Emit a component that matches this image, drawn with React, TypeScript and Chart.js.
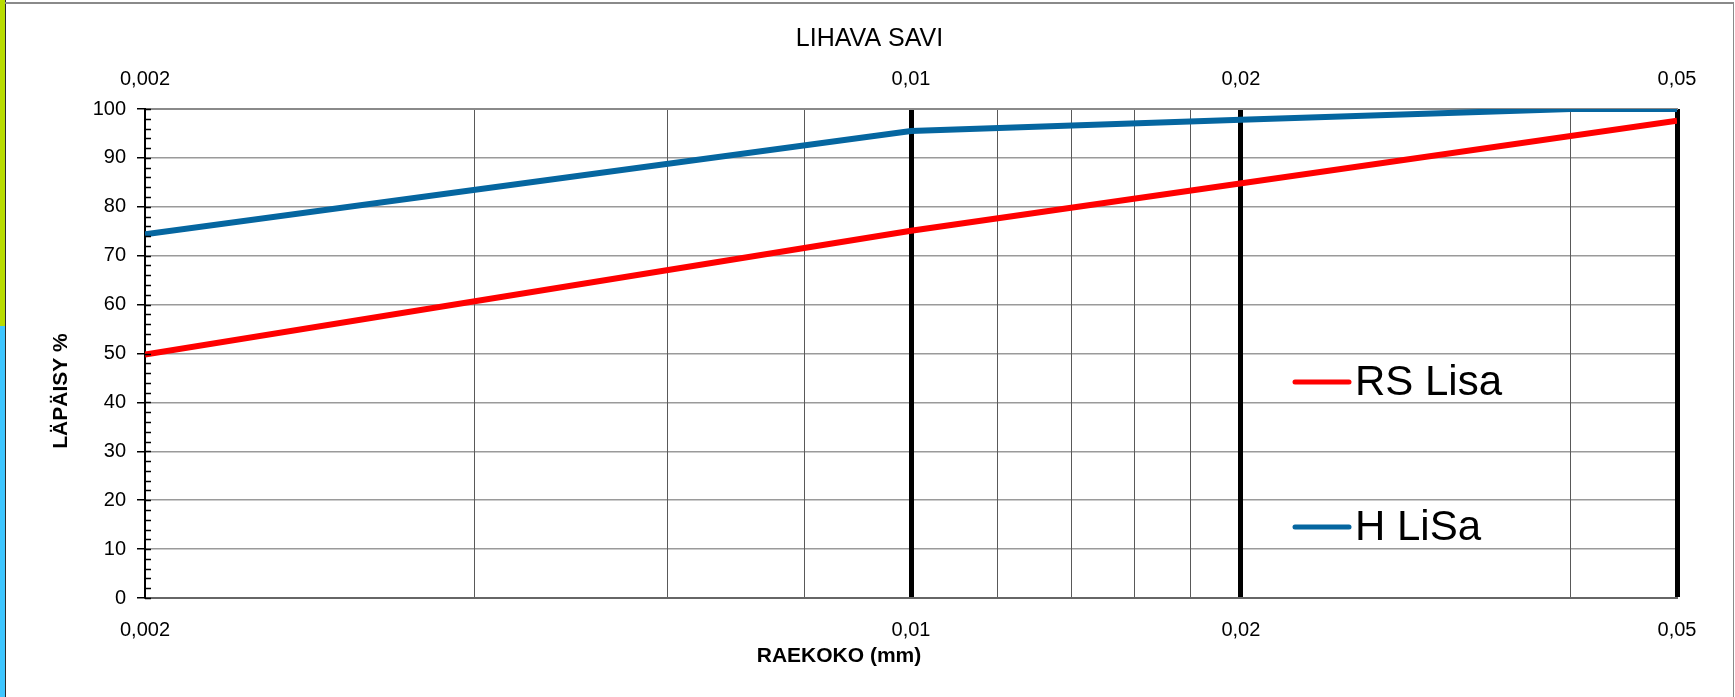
import React, { useEffect, useRef } from 'react';
import { Chart, registerables } from 'chart.js';

Chart.register(...registerables);

// ---- data ----
const chartTitle = 'LIHAVA SAVI';
const xAxisTitle = 'RAEKOKO (mm)';
const yAxisTitle = 'LÄPÄISY %';
const seriesNames = ['RS Lisa', 'H LiSa'];
const seriesColors = ['#ff0000', '#0566a0'];
const rsSizes = [0.002, 0.01, 0.05];
const rsPassing = [49.8, 75.1, 97.6];
const hSizes = [0.002, 0.01, 0.02, 0.04, 0.05];
const hPassing = [74.4, 95.5, 97.8, 100, 100];
const xGridValues = [0.002, 0.004, 0.006, 0.008, 0.01, 0.012, 0.014, 0.016, 0.018, 0.02, 0.04, 0.05];
const xLabelValues = [0.002, 0.01, 0.02, 0.05];
const xLabelTexts = ['0,002', '0,01', '0,02', '0,05'];
const xHeavyValues = [0.01, 0.02, 0.05];
const xMin = 0.002;
const xMax = 0.05;
const yMin = 0;
const yMax = 100;
const yMajorStep = 10;
const yMinorStep = 2;

const FONT = '"Liberation Sans", Arial, Helvetica, sans-serif';
const W = 1735;
const H = 697;

const near = (a: number, b: number) => Math.abs(a - b) < 1e-9;
const inList = (v: number, list: number[]) => list.some((t) => near(v, t));
const xLabelFor = (v: number) => {
  const i = xLabelValues.findIndex((t) => near(t, v));
  return i >= 0 ? xLabelTexts[i] : '';
};

const extrasPlugin = {
  id: 'extras',
  afterDraw(chart: any) {
    const { ctx, chartArea } = chart;
    const yScale = chart.scales.y;
    ctx.save();
    // inner minor tick marks on the y axis
    ctx.strokeStyle = '#000';
    ctx.lineWidth = 1.5;
    yScale.ticks.forEach((t: any) => {
      const py = Math.round(yScale.getPixelForValue(t.value)) + 0.5;
      ctx.beginPath();
      ctx.moveTo(chartArea.left, py);
      ctx.lineTo(chartArea.left + 6, py);
      ctx.stroke();
    });
    // title
    ctx.fillStyle = '#000';
    ctx.textAlign = 'center';
    ctx.textBaseline = 'middle';
    ctx.font = `25px ${FONT}`;
    ctx.fillText(chartTitle, W / 2 + 2, 39);
    // x axis title
    ctx.font = `bold 21px ${FONT}`;
    ctx.fillText(xAxisTitle, 839, 656);
    // y axis title
    ctx.save();
    ctx.translate(61, 391);
    ctx.rotate(-Math.PI / 2);
    ctx.fillText(yAxisTitle, 0, 0);
    ctx.restore();
    // legend
    const legendY = [382, 527];
    chart.data.datasets.forEach((ds: any, i: number) => {
      const y = legendY[i];
      ctx.strokeStyle = ds.borderColor;
      ctx.lineWidth = 5;
      ctx.lineCap = 'round';
      ctx.beginPath();
      ctx.moveTo(1295, y);
      ctx.lineTo(1349, y);
      ctx.stroke();
      ctx.fillStyle = '#000';
      ctx.textAlign = 'left';
      ctx.textBaseline = 'middle';
      ctx.font = `42px ${FONT}`;
      ctx.fillText(ds.label, 1355, y + 1);
    });
    ctx.restore();
  },
};

export default function App() {
  const ref = useRef<HTMLCanvasElement | null>(null);

  useEffect(() => {
    if (!ref.current) return;
    const tickFont = { family: FONT, size: 20 };
    const chart = new Chart(ref.current, {
      type: 'line',
      data: {
        datasets: [
          {
            label: seriesNames[0],
            data: rsSizes.map((x, i) => ({ x, y: rsPassing[i] })),
            borderColor: seriesColors[0],
            backgroundColor: seriesColors[0],
            borderWidth: 6,
            pointRadius: 0,
            tension: 0,
            clip: 0,
            xAxisID: 'x',
            yAxisID: 'y',
          },
          {
            label: seriesNames[1],
            data: hSizes.map((x, i) => ({ x, y: hPassing[i] })),
            borderColor: seriesColors[1],
            backgroundColor: seriesColors[1],
            borderWidth: 6,
            pointRadius: 0,
            tension: 0,
            clip: 0,
            xAxisID: 'x',
            yAxisID: 'y',
          },
        ],
      },
      options: {
        animation: false,
        responsive: false,
        devicePixelRatio: 1,
        parsing: false as any,
        layout: { padding: { left: 0, right: 58, top: 0, bottom: 0 } },
        plugins: {
          legend: { display: false },
          title: { display: false },
          tooltip: { enabled: false },
        },
        scales: {
          x: {
            type: 'logarithmic',
            position: 'bottom',
            min: xMin,
            max: xMax,
            afterBuildTicks: (s: any) => {
              s.ticks = xGridValues.map((v) => ({ value: v }));
            },
            afterFit: (s: any) => {
              s.height = 99;
            },
            grid: {
              z: -1,
              drawTicks: false,
              color: (c: any) => {
                const v = c.tick ? c.tick.value : 0;
                if (inList(v, xHeavyValues)) return '#000';
                if (near(v, xMin)) return 'rgba(0,0,0,0)';
                return '#595959';
              },
              lineWidth: (c: any) => {
                const v = c.tick ? c.tick.value : 0;
                return inList(v, xHeavyValues) ? 5 : 1;
              },
            },
            border: { color: '#666', width: 2 },
            ticks: {
              autoSkip: false,
              maxRotation: 0,
              minRotation: 0,
              padding: 20,
              color: '#000',
              font: tickFont,
              callback: (v: any) => xLabelFor(Number(v)),
            },
          } as any,
          x2: {
            type: 'logarithmic',
            position: 'top',
            min: xMin,
            max: xMax,
            afterBuildTicks: (s: any) => {
              s.ticks = xGridValues.map((v) => ({ value: v }));
            },
            afterFit: (s: any) => {
              s.height = 109;
            },
            grid: { display: false, drawTicks: false },
            border: { color: '#8a8a8a', width: 2 },
            ticks: {
              autoSkip: false,
              maxRotation: 0,
              minRotation: 0,
              padding: 18,
              color: '#000',
              font: tickFont,
              callback: (v: any) => xLabelFor(Number(v)),
            },
          } as any,
          y: {
            type: 'linear',
            position: 'left',
            min: yMin,
            max: yMax,
            afterFit: (s: any) => {
              s.width = 145;
            },
            grid: {
              z: -2,
              color: (c: any) =>
                c.tick && c.tick.value % yMajorStep === 0 ? '#9a9a9a' : 'rgba(0,0,0,0)',
              lineWidth: 1.5,
              tickColor: (c: any) =>
                c.tick && c.tick.value % yMajorStep === 0 ? '#000' : 'rgba(0,0,0,0)',
              tickLength: 8,
              tickWidth: 1.5,
            },
            border: { color: '#000', width: 2 },
            ticks: {
              stepSize: yMinorStep,
              autoSkip: false,
              padding: 11,
              color: '#000',
              font: tickFont,
              callback: (v: any) => (Number(v) % yMajorStep === 0 ? String(v) : ''),
            },
          } as any,
        },
      },
      plugins: [extrasPlugin],
    });
    return () => chart.destroy();
  }, []);

  return (
    <div
      style={{
        position: 'fixed',
        left: 0,
        top: 0,
        width: W,
        height: H,
        background: '#fff',
        overflow: 'hidden',
      }}
    >
      <div style={{ position: 'absolute', left: 0, top: 0, width: 5, height: 326, background: '#b8dc00' }} />
      <div style={{ position: 'absolute', left: 0, top: 326, width: 5, height: H - 326, background: '#3ec6ff' }} />
      <div style={{ position: 'absolute', left: 5, top: 0, width: 1, height: H, background: '#2a2a2a' }} />
      <div style={{ position: 'absolute', left: 5, top: 2, width: W - 6, height: 2, background: '#8a8a8a' }} />
      <div style={{ position: 'absolute', left: W - 2, top: 2, width: 1, height: H, background: '#8a8a8a' }} />
      <canvas
        ref={ref}
        width={W}
        height={H}
        style={{ position: 'absolute', left: 0, top: 0, width: W, height: H }}
      />
    </div>
  );
}
